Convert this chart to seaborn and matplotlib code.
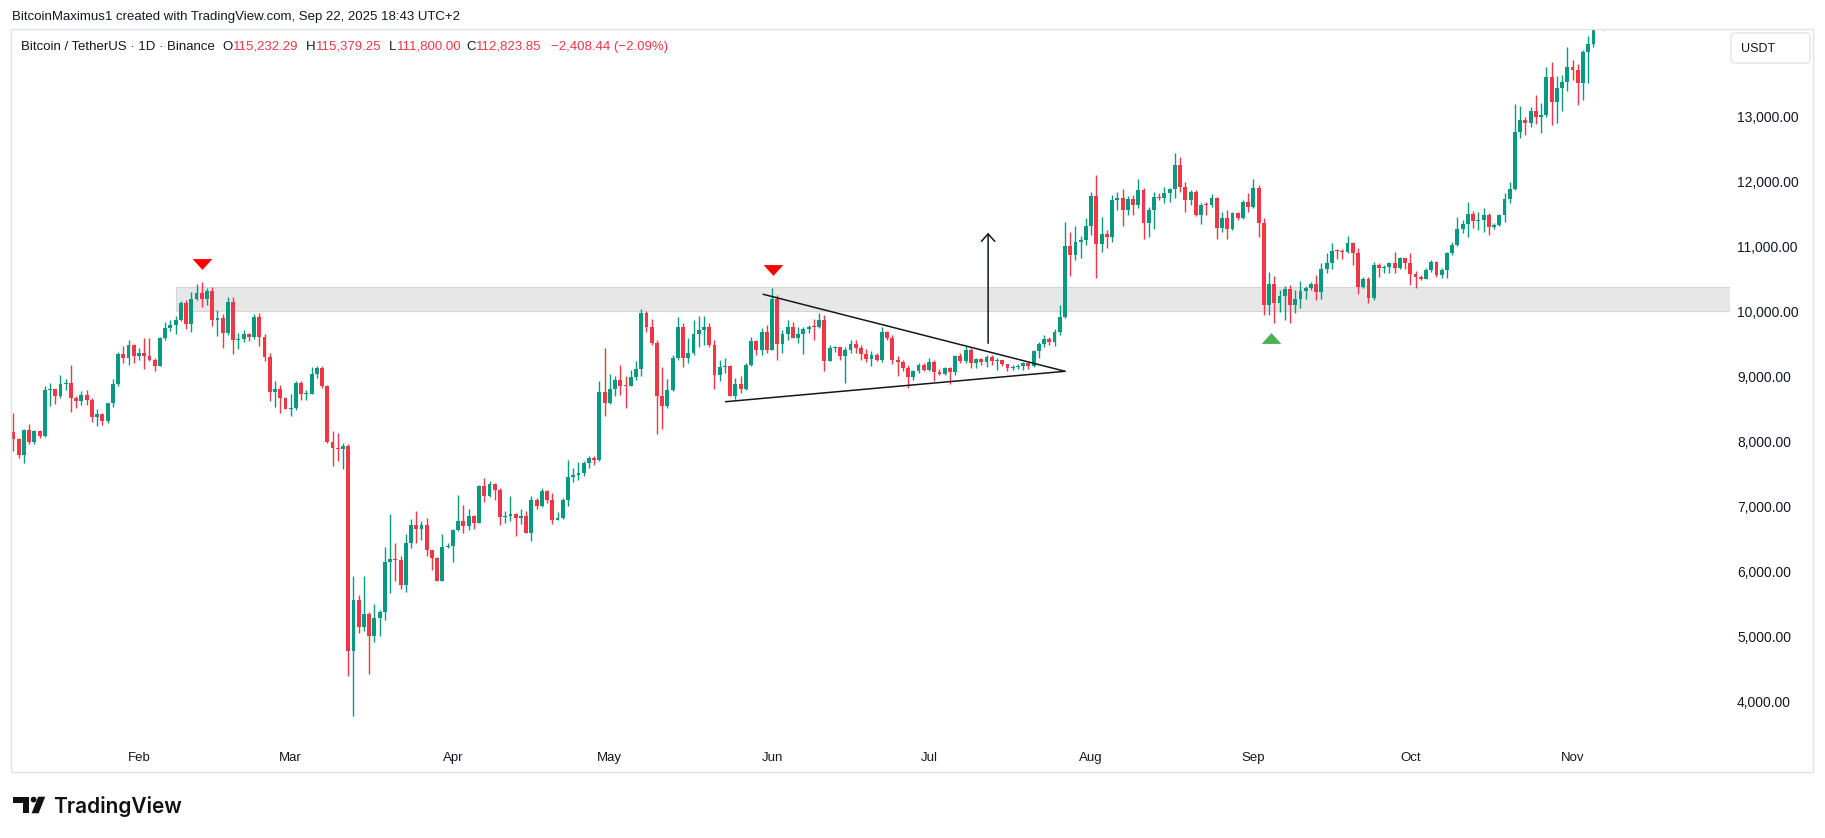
import numpy as np
import pandas as pd
import seaborn as sns
import matplotlib.pyplot as plt
from matplotlib.patches import Rectangle, FancyBboxPatch, Polygon, Circle
from matplotlib.path import Path

# BTC/USDT daily candles, 8 Jan 2020 -> 7 Nov 2020
first_date = '2020-01-08'
first_open = 8145
closes = [8043, 7802, 8187, 7992, 8171, 8084, 8801, 8810, 8699, 8893,
          8900, 8678, 8622, 8724, 8648, 8376, 8433, 8315, 8597, 8893,
          9355, 9283, 9493, 9324, 9360, 9314, 9262, 9170, 9595, 9749,
          9800, 9877, 10144, 9816, 10195, 10297, 10195, 10328, 9877, 9903,
          9682, 10159, 9570, 9580, 9662, 9611, 9928, 9611, 9303, 8760,
          8812, 8673, 8504, 8520, 8904, 8735, 8740, 9047, 9134, 8863,
          7992, 7905, 7890, 7930, 4780, 5574, 5148, 5358, 5010, 5292,
          5384, 6153, 6204, 6180, 5794, 6445, 6726, 6660, 6726, 6332,
          6214, 5855, 6383, 6404, 6639, 6788, 6711, 6855, 6752, 7315,
          7172, 7356, 7264, 6839, 6865, 6890, 6829, 6865, 6598, 7100,
          7008, 7239, 7100, 6803, 6829, 7110, 7459, 7495, 7520, 7674,
          7751, 7715, 8766, 8596, 8817, 8955, 8863, 8860, 8991, 9119,
          9980, 9775, 9519, 8699, 8545, 8801, 9288, 9775, 9288, 9365,
          9662, 9723, 9764, 9493, 9032, 9150, 9165, 8699, 8894, 8812,
          9186, 9555, 9406, 9698, 9416, 10195, 9508, 9662, 9775, 9596,
          9662, 9734, 9775, 9770, 9877, 9252, 9442, 9457, 9314, 9416,
          9508, 9442, 9355, 9273, 9339, 9262, 9683, 9596, 9262, 9222,
          9134, 8991, 9098, 9186, 9109, 9232, 9068, 9047, 9134, 9075,
          9324, 9237, 9416, 9211, 9273, 9235, 9303, 9245, 9253, 9197,
          9133, 9154, 9171, 9209, 9162, 9391, 9508, 9580, 9535, 9698,
          9928, 11015, 10876, 11081, 11100, 11322, 11783, 11045, 11199, 11148,
          11722, 11757, 11568, 11732, 11645, 11875, 11363, 11568, 11773, 11757,
          11824, 11885, 12259, 11926, 11722, 11850, 11491, 11645, 11640, 11747,
          11296, 11440, 11271, 11517, 11440, 11696, 11619, 11911, 11363, 10108,
          10430, 10144, 10246, 10349, 10108, 10195, 10323, 10374, 10431, 10313,
          10656, 10758, 10938, 10930, 10922, 11055, 10902, 10389, 10502, 10210,
          10722, 10671, 10695, 10748, 10671, 10825, 10748, 10584, 10543, 10502,
          10646, 10774, 10569, 10646, 10912, 11030, 11271, 11353, 11505, 11400,
          11410, 11490, 11300, 11337, 11490, 11731, 11884, 12761, 12950, 12899,
          13094, 13001, 13027, 13606, 13232, 13437, 13539, 13760, 13719, 13524,
          13995, 14118, 15590, 15580, 14833]
highs = [8443, 8060, 8200, 8279, 8190, 8190, 8863, 8903, 8820, 9027,
         8975, 9186, 8700, 8790, 8800, 8680, 8500, 8440, 8600, 8975,
         9390, 9478, 9570, 9500, 9440, 9595, 9595, 9290, 9620, 9850,
         9875, 9930, 10160, 10185, 10300, 10430, 10466, 10365, 10385, 10030,
         9960, 10235, 10225, 9670, 9725, 9680, 9970, 9980, 9660, 9365,
         8930, 8880, 8690, 8740, 8930, 8930, 8800, 9150, 9170, 9170,
         8880, 8161, 8130, 7980, 7970, 5942, 5640, 5932, 5380, 5510,
         5420, 6385, 6895, 6440, 6250, 6590, 6815, 6940, 6780, 6830,
         6342, 6229, 6588, 6445, 6660, 7187, 7034, 6967, 6880, 7340,
         7443, 7392, 7367, 7290, 6930, 7172, 6910, 6967, 6930, 7172,
         7136, 7290, 7260, 7213, 6915, 7136, 7725, 7597, 7690, 7700,
         7786, 7776, 8940, 9442, 9042, 9006, 9186, 9006, 9109, 9237,
         10041, 10020, 9887, 9560, 9150, 8960, 9330, 9918, 9836, 9595,
         9877, 9938, 9938, 9836, 9570, 9262, 9288, 9186, 8980, 9006,
         9211, 9610, 9570, 9749, 9800, 10364, 10262, 9723, 9877, 9851,
         9775, 9775, 9800, 9887, 9980, 9954, 9493, 9478, 9467, 9467,
         9560, 9560, 9493, 9426, 9405, 9365, 9764, 9713, 9647, 9324,
         9262, 9186, 9109, 9211, 9211, 9288, 9262, 9119, 9150, 9150,
         9339, 9365, 9478, 9442, 9288, 9288, 9330, 9330, 9290, 9260,
         9205, 9185, 9200, 9230, 9220, 9420, 9540, 9640, 9620, 9730,
         10108, 11389, 11235, 11322, 11168, 11450, 11850, 12106, 11466, 11260,
         11799, 11850, 11886, 11783, 11799, 12039, 11901, 11620, 11850, 11824,
         11926, 11911, 12439, 12388, 12003, 11875, 11870, 11681, 11696, 11814,
         11773, 11542, 11568, 11542, 11542, 11722, 11824, 12039, 11952, 11440,
         10620, 10550, 10340, 10400, 10420, 10330, 10470, 10395, 10465, 10570,
         10750, 10900, 11060, 10965, 10965, 11168, 11080, 10978, 10543, 10543,
         10774, 10748, 10722, 10774, 10927, 10850, 10835, 10902, 10635, 10569,
         10671, 10800, 10789, 10671, 10928, 11080, 11464, 11414, 11695, 11545,
         11530, 11592, 11525, 11373, 11500, 11823, 12000, 13196, 13165, 13001,
         13145, 13334, 13216, 13770, 13847, 13626, 13642, 14077, 13872, 13811,
         14036, 14241, 15750, 15965, 15765]
lows = [7864, 7751, 7674, 7960, 7965, 8060, 8080, 8555, 8580, 8670,
        8800, 8453, 8520, 8560, 8570, 8299, 8238, 8255, 8290, 8540,
        8860, 9215, 9185, 9210, 9260, 9119, 9245, 9083, 9160, 9560,
        9700, 9660, 9860, 9735, 9685, 10190, 10072, 10110, 9785, 9631,
        9442, 9650, 9349, 9430, 9540, 9545, 9590, 9470, 9240, 8622,
        8535, 8442, 8500, 8400, 8490, 8650, 8650, 8735, 8980, 8828,
        7990, 7623, 7710, 7580, 4406, 3780, 5060, 5085, 4436, 4920,
        5010, 5255, 5676, 5855, 5730, 5690, 6370, 6445, 6495, 6250,
        6024, 5855, 5855, 6368, 6147, 6625, 6598, 6639, 6665, 6752,
        7070, 7152, 7100, 6727, 6752, 6778, 6557, 6742, 6598, 6470,
        6967, 7000, 7060, 6742, 6803, 6819, 7008, 7377, 7418, 7469,
        7597, 7648, 7700, 8392, 8586, 8699, 8725, 8520, 8853, 8955,
        9020, 9698, 9483, 8120, 8197, 8520, 8790, 9262, 9150, 9211,
        9340, 9467, 9493, 9467, 8812, 8930, 9058, 8699, 8658, 8750,
        8802, 9160, 9340, 9340, 9365, 9416, 9262, 9365, 9570, 9596,
        9519, 9355, 9672, 9560, 9749, 9098, 9237, 9390, 9262, 8904,
        9375, 9365, 9262, 9222, 9170, 9237, 9222, 9570, 9200, 9007,
        9083, 8827, 8955, 9058, 9083, 9083, 8930, 9032, 9032, 8893,
        9032, 9211, 9211, 9134, 9134, 9186, 9150, 9186, 9110, 9170,
        9090, 9100, 9120, 9110, 9125, 9150, 9290, 9460, 9490, 9480,
        9650, 9913, 10553, 10800, 10830, 11030, 11180, 10518, 10928, 10980,
        11081, 11568, 11322, 11491, 11491, 11594, 11117, 11148, 11271, 11722,
        11670, 11696, 11747, 11850, 11542, 11645, 11476, 11353, 11491, 11609,
        11117, 11235, 11117, 11261, 11414, 11425, 11542, 11594, 11148, 9954,
        9954, 9826, 10000, 9877, 9836, 9980, 10060, 10200, 10340, 10180,
        10200, 10600, 10660, 10810, 10810, 10902, 10722, 10277, 10364, 10133,
        10185, 10543, 10594, 10605, 10594, 10656, 10656, 10415, 10364, 10492,
        10502, 10620, 10543, 10517, 10517, 10876, 11014, 11210, 11157, 11286,
        11260, 11230, 11183, 11270, 11320, 11388, 11680, 11870, 12668, 12720,
        12848, 12889, 12755, 12991, 12873, 12909, 13094, 13401, 13575, 13180,
        13258, 13514, 14077, 15190, 14344]

month_labels = ['Feb', 'Mar', 'Apr', 'May', 'Jun', 'Jul', 'Aug', 'Sep', 'Oct', 'Nov']
month_dates = ['2020-02-01', '2020-03-01', '2020-04-01', '2020-05-01', '2020-06-01',
               '2020-07-01', '2020-08-01', '2020-09-01', '2020-10-01', '2020-11-01']
price_ticks = [4000, 5000, 6000, 7000, 8000, 9000, 10000, 11000, 12000, 13000]

# resistance zone and drawings (day offsets from first_date, prices)
zone_start = 31.0
zone_low, zone_high = 10018, 10378
top_marks_x = [36.0, 145.1]
top_marks_y = [10742, 10650]
bottom_marks_x = [240.4]
bottom_marks_y = [9602]
upper_line_x = [143.3, 201.0]
upper_line_y = [10271, 9086]
lower_line_x = [136.1, 201.0]
lower_line_y = [8618, 9086]
arrow_x = 186.3
arrow_y = [9517, 11218]

# OHLC legend line: (letter, value, x of value in px)
header_title = 'Bitcoin / TetherUS · 1D · Binance'
header_fields = [('O', '115,232.29', 233), ('H', '115,379.25', 316),
                 ('L', '111,800.00', 397), ('C', '112,823.85', 476)]
header_change = '\u22122,408.44 (\u22122.09%)'

UP = '#089981'
DOWN = '#F23645'
INK = '#131722'

opens = [first_open] + closes[:-1]
dates = pd.date_range(first_date, periods=len(closes), freq='D')
df = pd.DataFrame({'date': dates, 'open': opens, 'high': highs, 'low': lows, 'close': closes})
df['x'] = (df['date'] - dates[0]).dt.days
df['color'] = np.where(df['close'] >= df['open'], UP, DOWN)
month_x = [(pd.Timestamp(d) - dates[0]).days for d in month_dates]

sns.set_theme(style='white')
plt.rcParams['font.family'] = ['Liberation Sans', 'DejaVu Sans']

W, H = 1825, 838
fig = plt.figure(figsize=(W / 100, H / 100), dpi=100, facecolor='white')

# main price axes (pixel box: x 11..1730, y 29..742)
ax = fig.add_axes([11 / W, 1 - 742 / H, (1730 - 11) / W, (742 - 29) / H])
ax.set_facecolor('white')
ax.set_xlim(-0.46, 328.1)
ax.set_ylim(3383, 14352)

ax.add_patch(Rectangle((zone_start, zone_low), 328.1 - zone_start, zone_high - zone_low,
                       facecolor='#e7e7e7', edgecolor='#d5d5d5', lw=0.8, zorder=1))

ax.vlines(df['x'], df['low'], df['high'], colors=df['color'], lw=1.0, zorder=3)
body = (df['close'] - df['open']).abs().clip(lower=15)
ax.bar(df['x'], body, bottom=np.minimum(df['open'], df['close']), width=0.74,
       color=df['color'], linewidth=0, zorder=4)

ax.plot(upper_line_x, upper_line_y, color=INK, lw=1.1, zorder=5)
ax.plot(lower_line_x, lower_line_y, color=INK, lw=1.1, zorder=5)
ax.annotate('', xy=(arrow_x, arrow_y[1]), xytext=(arrow_x, arrow_y[0]),
            arrowprops=dict(arrowstyle='->,head_length=0.45,head_width=0.4', color=INK, lw=1.1,
                            shrinkA=0, shrinkB=0), zorder=5)

down_tri = Path([(-1, 0.55), (1, 0.55), (0, -0.55), (-1, 0.55)])
up_tri = Path([(-1, -0.55), (1, -0.55), (0, 0.55), (-1, -0.55)])
sns.scatterplot(x=top_marks_x, y=top_marks_y, marker=down_tri, s=200, color='#FF0000',
                linewidth=0, ax=ax, zorder=6)
sns.scatterplot(x=bottom_marks_x, y=bottom_marks_y, marker=up_tri, s=200, color='#4CAF50',
                linewidth=0, ax=ax, zorder=6)

ax.set_xticks(month_x)
ax.set_xticklabels(month_labels)
ax.yaxis.tick_right()
ax.set_yticks(price_ticks)
ax.set_yticklabels([f'{v:,.2f}' for v in price_ticks])
ax.tick_params(axis='x', length=0, pad=7, labelsize=9.5, colors=INK)
ax.tick_params(axis='y', length=0, pad=5, labelsize=10, colors=INK)
ax.set_xlabel('')
ax.set_ylabel('')
ax.grid(False)
for s in ax.spines.values():
    s.set_visible(False)

# overlay in pixel coordinates for the TradingView chrome
ov = fig.add_axes([0, 0, 1, 1], zorder=10)
ov.set_xlim(0, W)
ov.set_ylim(H, 0)
ov.axis('off')
ov.patch.set_alpha(0)

ov.add_patch(Rectangle((11, 29), 1813 - 11, 772 - 29, fill=False, edgecolor='#e0e3eb', lw=1))
ov.text(11.7, 16.7, 'BitcoinMaximus1 created with TradingView.com, Sep 22, 2025 18:43 UTC+2',
        fontsize=9.5, color=INK, va='center', ha='left')
ov.text(20.7, 46.7, header_title, fontsize=9.5, color=INK, va='center', ha='left')
for letter, value, x0 in header_fields:
    ov.text(x0 - 0.5, 46.7, letter, fontsize=9.5, color=INK, va='center', ha='right')
    ov.text(x0, 46.7, value, fontsize=9.5, color=DOWN, va='center', ha='left')
ov.text(551, 46.7, header_change, fontsize=9.5, color=DOWN, va='center', ha='left')

ov.add_patch(FancyBboxPatch((1731, 33), 79, 30, boxstyle='round,pad=0,rounding_size=4',
                            facecolor='white', edgecolor='#e0e3eb', lw=1))
ov.text(1741, 48.5, 'USDT', fontsize=9, color=INK, va='center', ha='left')

# TradingView logo
ov.add_patch(Rectangle((13.3, 796.7), 16, 5.8, color='#111111', lw=0))
ov.add_patch(Rectangle((22.7, 796.7), 6.6, 16.6, color='#111111', lw=0))
ov.add_patch(Circle((33.6, 799.6), 2.9, color='#111111', lw=0))
ov.add_patch(Polygon([(38.2, 796.7), (45.2, 796.7), (38.6, 813.3), (31.6, 813.3)],
                     closed=True, color='#111111', lw=0))
ov.text(53, 812.7, 'TradingView', fontsize=15, fontweight='semibold', color='#111111',
        va='baseline', ha='left', family=['Inter', 'DejaVu Sans'])

fig.savefig('out.png', dpi=100, facecolor='white')
